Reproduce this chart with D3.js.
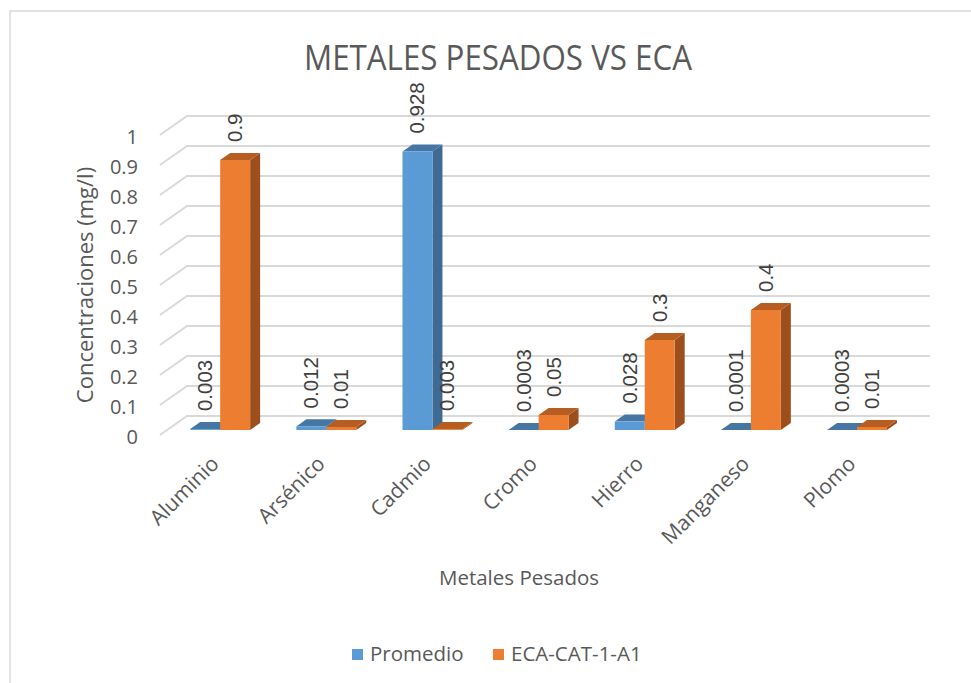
<!DOCTYPE html>
<html>
<head>
<meta charset="utf-8">
<script src="https://cdn.jsdelivr.net/npm/d3@7"></script>
<style>
  html, body { margin: 0; padding: 0; background: #fff; }
  svg { display: block; }
</style>
</head>
<body>
<svg id="chart" width="971" height="683"></svg>
<script>
// Metal categories and the two series drawn per category
const categories = ["Aluminio", "Arsénico", "Cadmio", "Cromo", "Hierro", "Manganeso", "Plomo"];
const promedio = [0.003, 0.012, 0.928, 0.0003, 0.028, 0.0001, 0.0003];
const eca = [0.9, 0.01, 0.003, 0.05, 0.3, 0.4, 0.01];
const seriesNames = ["Promedio", "ECA-CAT-1-A1"];
const yTicks = [0, 0.1, 0.2, 0.3, 0.4, 0.5, 0.6, 0.7, 0.8, 0.9, 1];
const yTickLabels = ["0", "0.1", "0.2", "0.3", "0.4", "0.5", "0.6", "0.7", "0.8", "0.9", "1"];

const svg = d3.select("#chart");
const font = "'Open Sans', 'DejaVu Sans', sans-serif";
const labelFont = "'Liberation Sans', Arial, sans-serif";

// Face colours: front, top, side
const palette = [
  { front: "#5B9BD5", top: "#4676A3", side: "#3F6A93" },
  { front: "#ED7D31", top: "#B65D22", side: "#9C4F1D" }
];

// Oblique projection: depth d in [0,1] shifts toward the back wall
const depthDX = 27, depthDY = -19;
const barDepthStart = 0.263, barDepthEnd = 0.633;

const x0 = d3.scaleBand().domain(categories).range([160, 903]).paddingInner(0.4355).paddingOuter(0.2178);
const x1 = d3.scaleBand().domain(seriesNames).range([0, x0.bandwidth()]);
const y = d3.scaleLinear().domain([0, 1]).range([435, 135]);

const P = (x, v, d) => [x + depthDX * d, y(v) + depthDY * d];

// Chart frame
svg.append("rect").attr("x", 10).attr("y", 11).attr("width", 1000).attr("height", 700)
  .attr("fill", "#fff").attr("stroke", "#D9D9D9").attr("stroke-width", 1.5);

// Title
svg.append("text").attr("x", 498).attr("y", 70).attr("text-anchor", "middle")
  .attr("font-family", font).attr("font-size", 34).attr("fill", "#595959")
  .attr("textLength", 388).attr("lengthAdjust", "spacingAndGlyphs")
  .text("METALES PESADOS VS ECA");

// Gridlines: side-wall diagonal plus back-wall horizontal
const xl = x0.range()[0], xr = x0.range()[1];
const grid = svg.append("g");
yTicks.forEach(v => {
  const pts = [P(xl, v, 0), P(xl, v, 1), P(xr, v, 1)];
  grid.append("path").attr("d", d3.line()(pts))
    .attr("fill", "none").attr("stroke", "#D9D9D9").attr("stroke-width", 2);
});

// Y tick labels
svg.append("g").selectAll("text").data(yTicks).join("text")
  .attr("x", 138).attr("y", v => y(v) + 9)
  .attr("text-anchor", "end").attr("font-family", font).attr("font-size", 20).attr("fill", "#595959")
  .text((v, i) => yTickLabels[i]);

// Bars as three visible faces
const bars = [];
categories.forEach((c, i) => {
  [promedio[i], eca[i]].forEach((v, s) => bars.push({ c, s, v }));
});
const barG = svg.append("g");
bars.forEach(b => {
  const xa = x0(b.c) + x1(seriesNames[b.s]);
  const xb = xa + x1.bandwidth();
  const col = palette[b.s];
  const poly = pts => barG.append("polygon").attr("points", pts.map(p => p.join(",")).join(" "));
  // side
  poly([P(xb, 0, barDepthStart), P(xb, 0, barDepthEnd), P(xb, b.v, barDepthEnd), P(xb, b.v, barDepthStart)])
    .attr("fill", col.side);
  // top
  poly([P(xa, b.v, barDepthStart), P(xb, b.v, barDepthStart), P(xb, b.v, barDepthEnd), P(xa, b.v, barDepthEnd)])
    .attr("fill", col.top);
  // front
  poly([P(xa, 0, barDepthStart), P(xb, 0, barDepthStart), P(xb, b.v, barDepthStart), P(xa, b.v, barDepthStart)])
    .attr("fill", col.front);
});

// Data labels, rotated, above each bar
bars.forEach(b => {
  const xa = x0(b.c) + x1(seriesNames[b.s]);
  const [cx, ty] = P(xa + x1.bandwidth() / 2, b.v, barDepthStart);
  svg.append("text")
    .attr("transform", `translate(${cx + 7},${ty - 18}) rotate(-90)`)
    .attr("font-family", labelFont).attr("font-size", 20.5).attr("fill", "#404040")
    .text(String(b.v));
});

// Category labels at -45°
svg.append("g").selectAll("text").data(categories).join("text")
  .attr("transform", c => `translate(${x0(c) + x0.bandwidth() / 2 + 7},${465}) rotate(-45)`)
  .attr("text-anchor", "end").attr("font-family", font).attr("font-size", 21).attr("fill", "#595959")
  .text(c => c);

// Axis titles
svg.append("text").attr("transform", "translate(93,285) rotate(-90)").attr("text-anchor", "middle")
  .attr("font-family", font).attr("font-size", 22).attr("fill", "#595959")
  .text("Concentraciones (mg/l)");
svg.append("text").attr("x", 519).attr("y", 585).attr("text-anchor", "middle")
  .attr("font-family", font).attr("font-size", 20.5).attr("fill", "#595959")
  .text("Metales Pesados");

// Legend
const legend = svg.append("g");
const legendX = [352, 493];
seriesNames.forEach((n, i) => {
  legend.append("rect").attr("x", legendX[i]).attr("y", 649).attr("width", 11).attr("height", 11)
    .attr("fill", palette[i].front);
  legend.append("text").attr("x", legendX[i] + 18).attr("y", 661)
    .attr("font-family", font).attr("font-size", 20.5).attr("fill", "#595959").text(n);
});
</script>
</body>
</html>
